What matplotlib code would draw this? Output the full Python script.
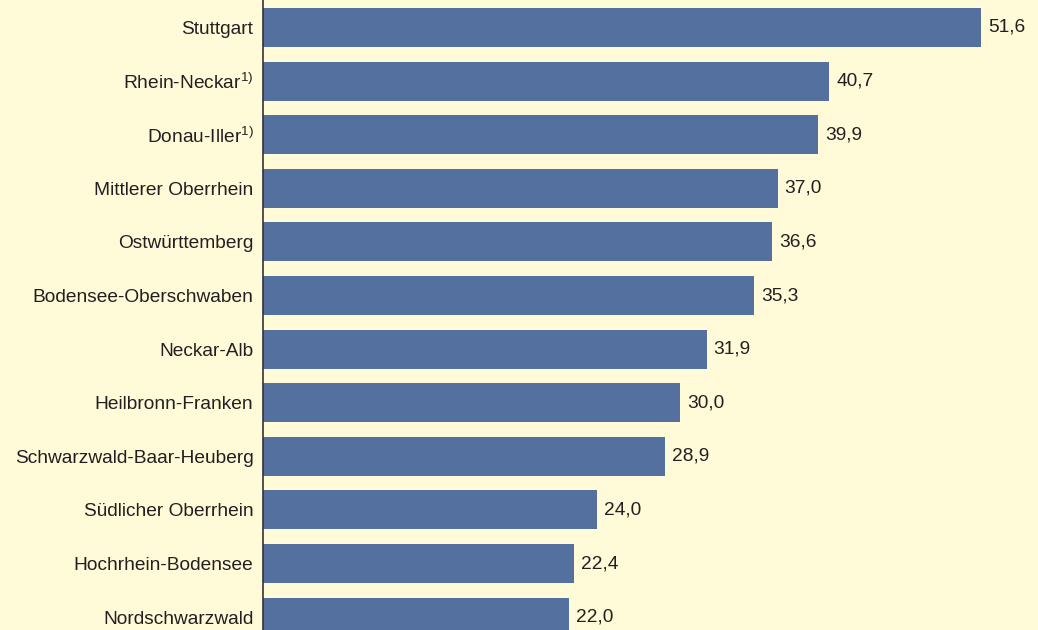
import matplotlib
matplotlib.use("Agg")
import matplotlib.pyplot as plt

# ── Data ──
regions = [
    "Stuttgart", "Rhein-Neckar$^{1)}$", "Donau-Iller$^{1)}$", "Mittlerer Oberrhein",
    "Ostwürttemberg", "Bodensee-Oberschwaben", "Neckar-Alb", "Heilbronn-Franken",
    "Schwarzwald-Baar-Heuberg", "Südlicher Oberrhein", "Hochrhein-Bodensee",
    "Nordschwarzwald",
]
values = [51.6, 40.7, 39.9, 37.0, 36.6, 35.3, 31.9, 30.0, 28.9, 24.0, 22.4, 22.0]

BG = "#fffbd9"
BAR = "#54709f"
TXT = "#231f20"

plt.rcParams["font.family"] = ["Liberation Sans", "DejaVu Sans"]
plt.rcParams["mathtext.fontset"] = "custom"
plt.rcParams["mathtext.rm"] = "Liberation Sans"
plt.rcParams["mathtext.it"] = "Liberation Sans"

fig = plt.figure(figsize=(10.38, 6.30), dpi=100, facecolor=BG)
ax = fig.add_axes([262.5 / 1038, 0, 1 - 262.5 / 1038, 1], facecolor=BG)

y = list(range(len(values)))
ax.barh(y, values, height=0.73, color=BAR, zorder=2)

for yi, v in zip(y, values):
    ax.text(v + 0.5, yi, f"{v:.1f}".replace(".", ","), va="center", ha="left",
            fontsize=13.8, color=TXT)

ax.set_yticks(y)
ax.set_yticklabels(regions, fontsize=13.8, color=TXT)
ax.tick_params(axis="y", length=0, pad=6.5)
ax.set_xticks([])

ax.set_xlim(0, 55.7)
ax.set_ylim(11.24, -0.513)

for s in ["top", "right", "bottom"]:
    ax.spines[s].set_visible(False)
ax.spines["left"].set_color("#333333")
ax.spines["left"].set_linewidth(1.2)

fig.savefig("out.png", dpi=100, facecolor=BG)
